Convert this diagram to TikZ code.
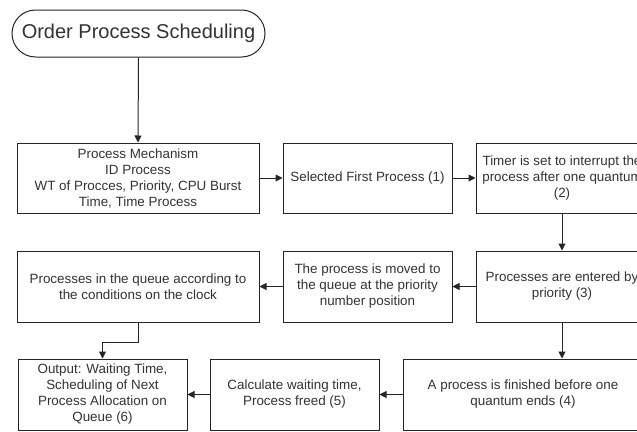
\documentclass[tikz,border=0pt]{standalone}
\usepackage{fontspec}
\setmainfont{Liberation Sans}
\usetikzlibrary{shapes.misc,arrows.meta}
\definecolor{ln}{HTML}{262626}
\definecolor{tx}{HTML}{333333}
\tikzset{
  box/.style={draw=ln, line width=1pt, rectangle, inner sep=0pt, align=center,
    text=tx, font=\fontsize{13.4}{16}\selectfont},
  term/.style={draw=ln, line width=1pt, rounded rectangle, inner sep=0pt,
    minimum width=253pt, minimum height=47pt, text=tx, font=\fontsize{20}{24}\selectfont},
  arr/.style={draw=ln, line width=1pt, -{Triangle[length=7pt,width=7pt]}}
}
\begin{document}
\begin{tikzpicture}[x=1pt,y=-1pt]
\clip (0,0) rectangle (637,431);
\useasboundingbox (0,0) rectangle (637,431);
\fill[white] (0,0) rectangle (637,431);
\node[term] (title) at (138.5,33.5) {Order Process Scheduling};
% row 1
\node[box, minimum width=242pt, minimum height=70pt] (mech) at (138,178)
  {Process Mechanism\\ID Process\\WT of Procces, Priority, CPU Burst\\Time, Time Process};
\node[box, minimum width=169pt, minimum height=70pt] (first) at (367.5,178)
  {Selected First Process (1)};
\node[box, minimum width=172pt, minimum height=70pt] (timer) at (562,178)
  {Timer is set to interrupt the\\process after one quantum\\(2)};
% row 2
\node[box, minimum width=242pt, minimum height=71pt] (queue) at (138,286.5)
  {Processes in the queue according to\\the conditions on the clock};
\node[box, minimum width=169pt, minimum height=71pt] (moved) at (367.5,286.5)
  {The process is moved to\\the queue at the priority\\number position};
\node[box, minimum width=172pt, minimum height=71pt] (prio) at (562,286.5)
  {Processes are entered by\\priority (3)};
% row 3
\node[box, minimum width=169pt, minimum height=71pt] (out) at (102.5,394.5)
  {Output: Waiting Time,\\Scheduling of Next\\Process Allocation on\\Queue (6)};
\node[box, minimum width=169pt, minimum height=71pt] (calc) at (294.5,394.5)
  {Calculate waiting time,\\Process freed (5)};
\node[box, minimum width=240pt, minimum height=71pt] (fin) at (523,394.5)
  {A process is finished before one\\quantum ends (4)};
% connectors
\draw[arr] (title.south) -- (mech.north);
\draw[arr] (mech.east) -- (first.west);
\draw[arr] (first.east) -- (timer.west);
\draw[arr] (timer.south) -- (prio.north);
\draw[arr] (prio.west) -- (moved.east);
\draw[arr] (moved.west) -- (queue.east);
\draw[arr] (queue.south) -- ++(0,20) -| (out.north);
\draw[arr] (prio.south) -- (prio.south |- fin.north);
\draw[arr] (fin.west) -- (calc.east);
\draw[arr] (calc.west) -- (out.east);
\end{tikzpicture}
\end{document}
